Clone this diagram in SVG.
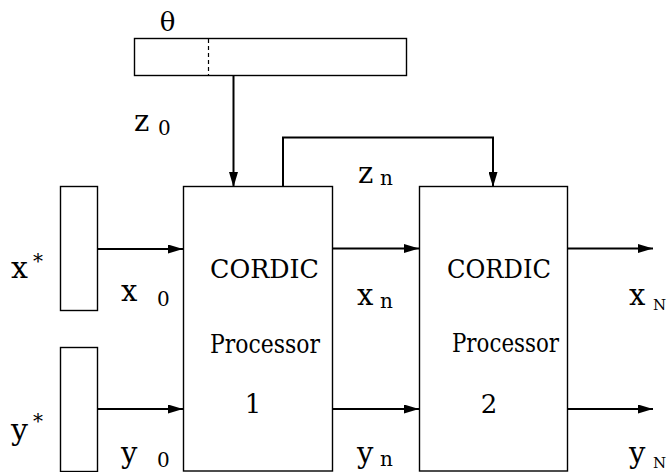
<svg xmlns="http://www.w3.org/2000/svg" width="667" height="472" viewBox="0 0 667 472">
<style>
.box{fill:#fff;stroke:#000;stroke-width:1.4}
.ln{fill:none;stroke:#000;stroke-width:2}
.big{font-size:29px}
.sub{font-size:20px}
.lab{font-size:26px}
</style>
<defs>
<marker id="ah" markerUnits="userSpaceOnUse" markerWidth="15" markerHeight="9" refX="15" refY="4.5" orient="auto">
<path d="M0,0 L15,4.5 L0,9 z" fill="#000"/>
</marker>
</defs>
<rect width="667" height="472" fill="#fff"/>
<g font-family="DejaVu Serif, Liberation Serif, serif" fill="#000">
<g id="theta-register">
<rect class="box" x="134.5" y="38.5" width="272" height="37"/>
<line x1="208.5" y1="39" x2="208.5" y2="75" stroke="#000" stroke-width="1.2" stroke-dasharray="4,3"/>
<text x="167.5" y="31" font-size="26" text-anchor="middle">θ</text>
</g>
<g id="x-register">
<rect class="box" x="60.5" y="186.5" width="37" height="124"/>
<text x="11" y="278" font-size="30">x</text>
<text x="33" y="268" font-size="20">*</text>
</g>
<g id="y-register">
<rect class="box" x="60.5" y="347.5" width="37" height="124"/>
<text x="11" y="440" font-size="30">y</text>
<text x="33" y="428" font-size="20">*</text>
</g>
<g id="processor1">
<rect class="box" x="183.5" y="186.5" width="149" height="284.5"/>
<text class="lab" x="210" y="278" textLength="109" lengthAdjust="spacingAndGlyphs">CORDIC</text>
<text class="lab" x="210" y="353" textLength="110" lengthAdjust="spacingAndGlyphs">Processor</text>
<text class="lab" x="253" y="413" text-anchor="middle">1</text>
</g>
<g id="processor2">
<rect class="box" x="419.5" y="186.5" width="148" height="284.5"/>
<text class="lab" x="447" y="278" textLength="104" lengthAdjust="spacingAndGlyphs">CORDIC</text>
<text class="lab" x="452" y="352" textLength="107" lengthAdjust="spacingAndGlyphs">Processor</text>
<text class="lab" x="489" y="413" text-anchor="middle">2</text>
</g>
<g id="connectors">
<line class="ln" x1="233.5" y1="76" x2="233.5" y2="187" marker-end="url(#ah)"/>
<polyline class="ln" points="283,187 283,137.5 493,137.5 493,187" stroke-width="2.4" marker-end="url(#ah)"/>
<line class="ln" x1="97" y1="249" x2="183" y2="249" marker-end="url(#ah)"/>
<line class="ln" x1="97" y1="409" x2="183" y2="409" marker-end="url(#ah)"/>
<line class="ln" x1="333" y1="248.5" x2="419" y2="248.5" marker-end="url(#ah)"/>
<line class="ln" x1="333" y1="409" x2="419" y2="409" marker-end="url(#ah)"/>
<line class="ln" x1="568" y1="248.5" x2="653" y2="248.5" marker-end="url(#ah)"/>
<line class="ln" x1="568" y1="409" x2="653" y2="409" marker-end="url(#ah)"/>
</g>
<g id="labels">
<text class="big" x="134" y="131">z</text><text class="sub" x="158" y="135">0</text>
<text class="big" x="358" y="183">z</text><text class="sub" x="380" y="185">n</text>
<text class="big" x="121" y="301">x</text><text class="sub" x="157" y="306">0</text>
<text class="big" x="357" y="305">x</text><text class="sub" x="380" y="308">n</text>
<text class="big" x="629" y="305">x</text><text font-size="15" x="653" y="310">N</text>
<text class="big" x="121" y="463">y</text><text class="sub" x="157" y="467">0</text>
<text class="big" x="357" y="463">y</text><text class="sub" x="380" y="466">n</text>
<text class="big" x="629" y="463">y</text><text font-size="15" x="653" y="468">N</text>
</g>
</g>
</svg>
